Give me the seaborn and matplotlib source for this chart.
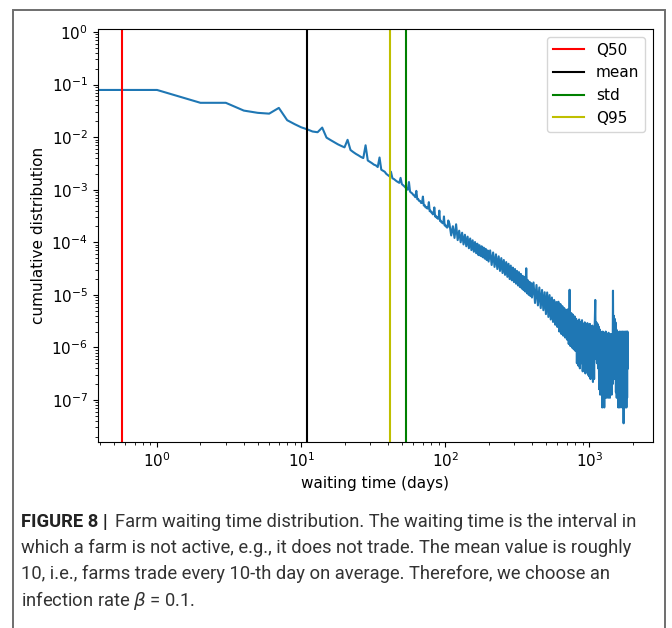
import numpy as np
import pandas as pd
import seaborn as sns
import matplotlib

matplotlib.use("Agg")
import matplotlib.pyplot as plt
from matplotlib import font_manager
from matplotlib.patches import Rectangle

DPI = 100
FIGSIZE = (6.72, 6.28)

# waiting time statistics (days)
q50 = 0.575
mean_wait = 11.0
std_wait = 53.5
q95 = 41.5

# daily part of the distribution, days 0..105
daily_days = list(range(0, 106))
daily_vals = [
    0.079, 0.079, 0.045, 0.045, 0.032, 0.029, 0.028, 0.036, 0.021, 0.0177,
    0.0154, 0.0141, 0.0128, 0.0124, 0.0152, 0.0098, 0.0088, 0.0080, 0.0073, 0.0068,
    0.0064, 0.0089, 0.0057, 0.0052, 0.0048, 0.0045, 0.0042, 0.0040, 0.0070, 0.0036,
    0.0034, 0.0032, 0.0030, 0.0029, 0.0027, 0.0041, 0.0024, 0.0023, 0.0022, 0.0020,
    0.0019, 0.0018, 0.0022, 0.00165, 0.0016, 0.00152, 0.00145, 0.0014, 0.00135, 0.00168,
    0.00128, 0.00122, 0.00116, 0.0011, 0.00104, 0.0010, 0.0014, 0.00092, 0.00088, 0.00085,
    8.0e-4, 7.7e-4, 7.2e-4, 9.5e-4, 6.6e-4, 6.6e-4, 6.1e-4, 6.1e-4, 5.6e-4, 5.6e-4,
    7.4e-4, 5.0e-4, 5.1e-4, 4.6e-4, 4.7e-4, 4.4e-4, 4.4e-4, 5.8e-4, 3.9e-4, 4.0e-4,
    3.7e-4, 3.7e-4, 3.4e-4, 3.5e-4, 4.6e-4, 3.1e-4, 3.2e-4, 2.95e-4, 3.0e-4, 2.8e-4,
    2.85e-4, 4.0e-4, 2.55e-4, 2.6e-4, 2.4e-4, 2.45e-4, 2.3e-4, 2.3e-4, 3.1e-4, 2.1e-4,
    2.15e-4, 2.0e-4, 2.05e-4, 1.9e-4, 1.95e-4, 2.6e-4,
]

mid_days = [
    107, 110, 113, 116, 119, 122, 125, 128, 131, 134, 137, 140, 143, 146, 149, 152,
    155, 158, 161, 164, 167, 170, 173, 176, 179, 182, 185, 188, 191, 194, 197, 200,
    205, 210, 215, 220, 225, 230, 235, 240, 245, 250, 255, 260, 265, 270, 275, 280,
    285, 290, 295, 300, 305, 310, 315, 320, 325, 330, 335, 340, 345, 350, 355, 360,
    365, 370, 375, 380, 385, 390, 395, 400,
    410, 420, 430, 440, 450, 460, 470, 480, 490, 500, 510, 520, 530, 540, 550, 560,
    570, 580, 590, 600, 610, 620, 630, 640, 650, 660, 670, 680, 690, 700, 710, 720,
    730, 740, 750, 760, 770, 780, 790, 800,
]
mid_vals = [
    2.25e-4, 1.35e-4, 2.02e-4, 1.21e-4, 2.2e-4, 1.1e-4, 1.66e-4, 1.0e-4, 1.52e-4, 9.1e-5,
    1.39e-4, 8.4e-5, 1.28e-4, 7.7e-5, 1.18e-4, 7.1e-5, 1.09e-4, 6.6e-5, 1.01e-4, 6.2e-5,
    9.4e-5, 5.7e-5, 8.8e-5, 5.5e-5, 8.4e-5, 5.2e-5, 7.9e-5, 4.9e-5, 7.5e-5, 4.6e-5,
    7.0e-5, 4.3e-5,
    7.0e-5, 3.7e-5, 6.4e-5, 3.4e-5, 5.9e-5, 3.1e-5, 5.4e-5, 2.85e-5, 5.0e-5, 2.6e-5,
    4.6e-5, 2.4e-5, 4.2e-5, 2.2e-5, 3.9e-5, 2.0e-5, 3.6e-5, 1.89e-5, 3.3e-5, 1.75e-5,
    3.1e-5, 1.63e-5, 2.85e-5, 1.51e-5, 2.7e-5, 1.41e-5, 2.5e-5, 1.32e-5, 2.3e-5, 1.23e-5,
    2.2e-5, 1.15e-5, 3.2e-5, 1.07e-5, 1.89e-5, 1.0e-5, 1.77e-5, 9.5e-6, 1.67e-5, 8.9e-6,
    1.72e-5, 7.0e-6, 1.54e-5, 6.3e-6, 1.38e-5, 5.6e-6, 1.24e-5, 5.1e-6, 1.12e-5, 4.3e-6,
    1.11e-5, 3.8e-6, 9.9e-6, 3.4e-6, 8.9e-6, 3.05e-6, 8.0e-6, 2.7e-6, 7.3e-6, 2.45e-6,
    7.4e-6, 2.0e-6, 6.7e-6, 1.8e-6, 6.1e-6, 1.67e-6, 5.6e-6, 1.54e-6, 5.2e-6, 1.41e-6,
    5.3e-6, 1.16e-6, 1.25e-5, 1.06e-6, 4.5e-6, 9.9e-7, 4.2e-6, 9.2e-7, 3.9e-6, 8.6e-7,
]

# far tail, every 10 days from 810 to 1850
tail_days = list(range(810, 1851, 10))
tail_vals = [
    3.5e-6, 5.0e-7, 3.2e-6, 4.5e-7, 3.4e-6, 4.0e-7, 3.0e-6, 5.0e-7, 3.3e-6, 3.5e-7,
    2.8e-6, 4.0e-7, 3.0e-6, 3.2e-7, 2.7e-6, 4.0e-7, 2.9e-6, 3.0e-7, 2.6e-6, 2.8e-7,
    2.8e-6, 2.5e-7, 2.5e-6, 3.0e-7, 2.6e-6, 2.2e-7, 2.4e-6, 2.5e-7, 2.5e-6, 8.0e-6,
    6.0e-7, 3.0e-6, 5.0e-7, 2.8e-6, 4.0e-7, 2.5e-6, 1.6e-7, 2.2e-6, 1.26e-7, 2.0e-6,
    2.0e-7, 1.8e-6, 7.2e-8, 2.0e-6, 1.26e-7, 1.9e-6, 7.2e-8, 1.8e-6, 1.6e-7, 2.0e-6,
    1.1e-7, 1.7e-6, 1.4e-7, 1.8e-6, 1.1e-7, 1.9e-6, 1.6e-7, 1.7e-6, 1.1e-7, 1.8e-6,
    1.4e-7, 1.6e-6, 1.26e-7, 1.8e-6, 2.0e-7, 1.2e-5, 3.0e-7, 4.0e-6, 2.5e-7, 3.5e-6,
    2.5e-7, 3.0e-6, 1.4e-7, 2.2e-6, 1.1e-7, 2.0e-6, 1.6e-7, 1.9e-6, 7.2e-8, 1.8e-6,
    1.4e-7, 2.0e-6, 7.2e-8, 1.9e-6, 1.1e-7, 2.0e-6, 1.4e-7, 1.8e-6, 7.2e-8, 2.0e-6,
    1.1e-7, 1.9e-6, 3.6e-8, 2.0e-6, 1.1e-7, 1.9e-6, 7.2e-8, 2.0e-6, 1.4e-7, 1.9e-6,
    7.2e-8, 2.0e-6, 1.1e-7, 2.0e-6, 4.0e-7,
]
assert len(tail_days) == len(tail_vals)
assert len(mid_days) == len(mid_vals)

caption_lines = [
    "Farm waiting time distribution. The waiting time is the interval in",
    "which a farm is not active, e.g., it does not trade. The mean value is roughly",
    "10, i.e., farms trade every 10-th day on average. Therefore, we choose an",
    "infection rate $\\beta$ = 0.1.",
]

df = pd.DataFrame({
    "days": daily_days + mid_days + tail_days,
    "dist": daily_vals + mid_vals + tail_vals,
})

fig = plt.figure(figsize=FIGSIZE, dpi=DPI)
ax = fig.add_axes([0.1454, 0.2967, 0.8263, 0.6571])

sns.lineplot(data=df, x="days", y="dist", ax=ax, color="#1f77b4",
             linewidth=1.5, estimator=None)
ax.set_xscale("log")
ax.set_yscale("log")

l1 = ax.axvline(q50, color="r", lw=1.5, label="Q50")
l2 = ax.axvline(mean_wait, color="k", lw=1.5, label="mean")
l3 = ax.axvline(std_wait, color="g", lw=1.5, label="std")
l4 = ax.axvline(q95, color="y", lw=1.5, label="Q95")
ax.legend(handles=[l1, l2, l3, l4], loc="upper right", fontsize=11)

ax.set_xlim(10 ** -0.412, 10 ** 3.442)
ax.set_ylim(10 ** -7.793, 10 ** 0.057)
ax.set_xlabel("waiting time (days)", fontsize=11)
ax.set_ylabel("cumulative distribution", fontsize=11)
ax.tick_params(labelsize=11)

# frame around figure + caption
fig.add_artist(Rectangle((12.5 / 672, -0.05), (665 - 12.5) / 672, 1.05 - 10 / 628,
                         transform=fig.transFigure, fill=False,
                         edgecolor="#6e6e6e", linewidth=1.4))

names = {f.name for f in font_manager.fontManager.ttflist}
cap_font = "Roboto" if "Roboto" in names else "Liberation Sans"
renderer = fig.canvas.get_renderer()

# fit caption size so the longest line spans the text block
probe = fig.text(0, 0, caption_lines[1], family=cap_font, fontsize=12)
w0 = probe.get_window_extent(renderer=renderer).width
probe.remove()
cap_size = 12 * 607 / w0

x0 = 21 / 672
line_y = [522, 548, 574, 600]
bold = fig.text(x0, 1 - line_y[0] / 628, "FIGURE 8 |", family=cap_font,
                fontsize=cap_size, fontweight="bold", color="#222222", va="center")
bb = bold.get_window_extent(renderer=renderer)
fig.text(bb.x1 / (FIGSIZE[0] * DPI) + 7 / 672, 1 - line_y[0] / 628, caption_lines[0],
         family=cap_font, fontsize=cap_size, color="#333333", va="center")
for line, y in zip(caption_lines[1:], line_y[1:]):
    fig.text(x0, 1 - y / 628, line, family=cap_font, fontsize=cap_size,
             color="#333333", va="center")

fig.savefig("out.png", dpi=DPI)
